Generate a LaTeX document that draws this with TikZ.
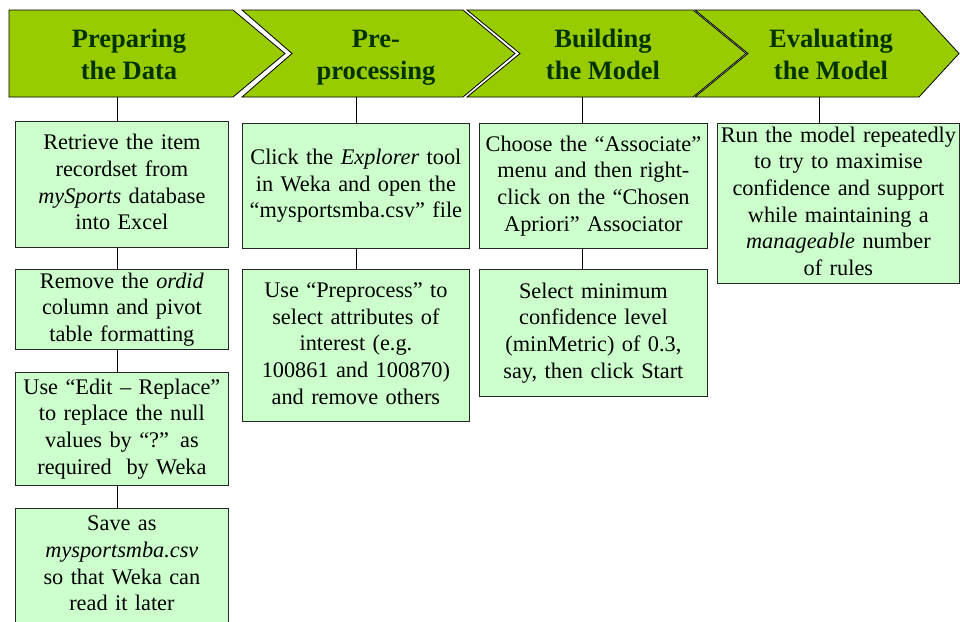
\documentclass[tikz,border=0pt]{standalone}
\usepackage{fontspec}
\setmainfont{Liberation Serif}
\definecolor{stagegreen}{RGB}{153,204,0}
\definecolor{labelgreen}{RGB}{0,51,0}
\definecolor{boxgreen}{RGB}{204,255,204}
\begin{document}
\begin{tikzpicture}[x=1pt,y=-1pt,
  chev/.style={fill=stagegreen, draw=black, line width=0.8pt, line join=miter},
  stagelabel/.style={text=labelgreen, font=\bfseries\fontsize{26.5}{32}\selectfont,
    align=center, inner sep=0pt,
    execute at begin node=\strut, execute at end node=\strut},
  stepbox/.style={draw=black!85, line width=0.8pt, fill=boxgreen,
    anchor=north west, inner sep=0pt, align=center,
    font=\fontsize{22.3}{26.7}\selectfont,
    execute at begin node=\strut, execute at end node=\strut},
  link/.style={draw=black, line width=0.8pt}]

\useasboundingbox (0,0) rectangle (960,621);

% stage chevrons
\path[chev] (9,10) -- (233,10) -- (285,53.5) -- (233,97) -- (9,97) -- cycle;
\path[chev] (242,10) -- (463,10) -- (515,53.5) -- (463,97) -- (242,97) -- (292,53.5) -- cycle;
\path[chev] (467,10) -- (693,10) -- (746,53.5) -- (693,97) -- (467,97) -- (520,53.5) -- cycle;
\path[chev] (695,10) -- (919,10) -- (959,53.5) -- (919,97) -- (695,97) -- (748,53.5) -- cycle;

\node[stagelabel] (c1) at (129,59.5) {Preparing\\the Data};
\node[stagelabel] (c2) at (376,59.5) {Pre-\\processing};
\node[stagelabel] (c3) at (603,59.5) {Building\\the Model};
\node[stagelabel] (c4) at (831,59.5) {Evaluating\\the Model};

% attachment points under each chevron
\coordinate (k1) at (117,97);
\coordinate (k2) at (356,97);
\coordinate (k3) at (582,97);
\coordinate (k4) at (819,97);

% step boxes
\node[stepbox, text width=213pt, minimum height=126pt] (b11) at (15,121)
  {Retrieve the item\\recordset from\\\textit{mySports} database\\into Excel};
\node[stepbox, text width=213pt, minimum height=80pt] (b12) at (15,269)
  {Remove the \textit{ordid}\\column and pivot\\table formatting};
\node[stepbox, text width=213pt, minimum height=113pt] (b13) at (15,372)
  {Use “Edit – Replace”\\to replace the null\\values by “?” as\\required~ by Weka};
\node[stepbox, text width=213pt, minimum height=114pt] (b14) at (15,508)
  {Save as\\\textit{mysportsmba.csv}\\so that Weka can\\read it later};

\node[stepbox, text width=227pt, minimum height=125pt] (b21) at (242,123)
  {Click the \textit{Explorer} tool\\in Weka and open the\\“mysportsmba.csv” file};
\node[stepbox, text width=227pt, minimum height=152pt] (b22) at (242,269)
  {Use “Preprocess” to\\select attributes of\\interest (e.g.\\100861 and 100870)\\and remove others};

\node[stepbox, text width=228pt, minimum height=125pt] (b31) at (479,123)
  {Choose the “Associate”\\menu and then right-\\click on the “Chosen\\Apriori” Associator};
\node[stepbox, text width=228pt, minimum height=127pt] (b32) at (479,269)
  {Select minimum\\confidence level\\(minMetric) of 0.3,\\say, then click Start};

\node[stepbox, text width=242pt, minimum height=158pt] (b41) at (717,123)
  {Run the model repeatedly\\to try to maximise\\confidence and support\\while maintaining a\\\textit{manageable} number\\of rules};

% connectors
\draw[link] (k1) -- (b11.north -| k1);
\draw[link] (b11.south -| k1) -- (b12.north -| k1);
\draw[link] (b12.south -| k1) -- (b13.north -| k1);
\draw[link] (b13.south -| k1) -- (b14.north -| k1);

\draw[link] (k2) -- (b21.north -| k2);
\draw[link] (b21.south -| k2) -- (b22.north -| k2);

\draw[link] (k3) -- (b31.north -| k3);
\draw[link] (b31.south -| k3) -- (b32.north -| k3);

\draw[link] (k4) -- (b41.north -| k4);
\end{tikzpicture}
\end{document}
